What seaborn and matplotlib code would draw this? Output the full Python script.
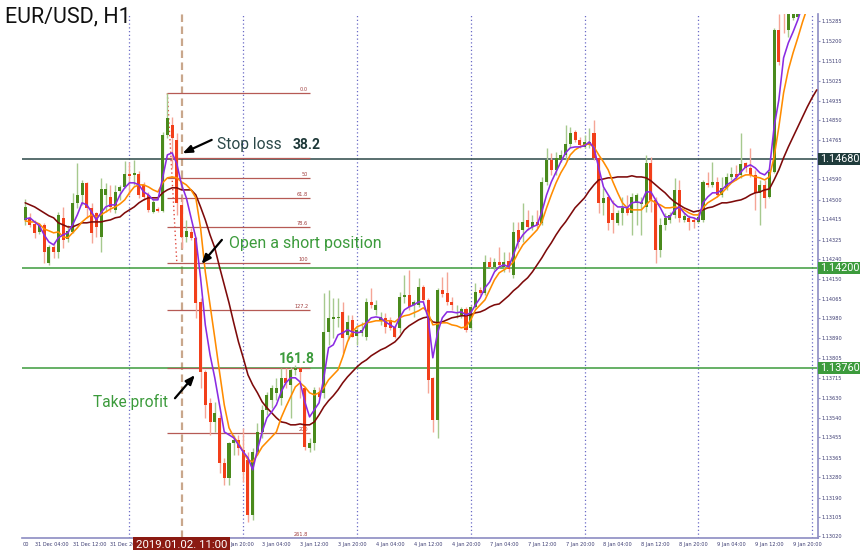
import numpy as np
import pandas as pd
import matplotlib
matplotlib.use("Agg")
import matplotlib.pyplot as plt
import seaborn as sns

# ---------------- data (prices in points, 1 point = 0.00001) ----------------
first_bar = 2          # bar index of first candle (bar 0 = 31 Dec 00:00, H1 bars)

open_pts = [
    114412, 114421, 114394, 114359, 114390, 114223, 114293, 114271, 114421, 114328,   # 2-11
    114359, 114487, 114522, 114575, 114465, 114443, 114337, 114522, 114513, 114456,   # 12-21
    114540, 114557, 114614, 114610, 114614, 114566, 114522, 114447, 114460, 114452,   # 22-31
    114786, 114830, 114764, 114478, 114337, 114359, 114333, 114051, 113743, 113607,   # 32-41
    113523, 113541, 113343, 113277, 113431, 113444, 113400, 113356, 113114, 113391,   # 42-51
    113479, 113576, 113620, 113651, 113629, 113717, 113686, 113752, 113761, 113673,   # 52-61
    113409, 113431, 113655, 113651, 113919, 113976, 113981, 114007, 113906, 113972,   # 62-71
    113902, 113915, 113897, 114051, 114016, 113972, 113981, 113972, 113941, 113937,   # 72-81
    114073, 114082, 114038, 114038, 114117, 114060, 113717, 113532, 114104, 114091,   # 82-91
    114051, 114003, 113994, 114020, 113937, 114029, 114104, 114091, 114227, 114205,   # 92-101
    114227, 114205, 114232, 114170, 114368, 114368, 114412, 114381, 114403, 114399,   # 102-111
    114579, 114676, 114632, 114676, 114698, 114746, 114799, 114764, 114733, 114742,   # 112-121
    114795, 114685, 114487, 114513, 114443, 114399, 114443, 114465, 114443, 114487,   # 122-131
    114482, 114469, 114663, 114500, 114280, 114390, 114412, 114434, 114544, 114412,   # 132-141
    114421, 114412, 114403, 114412, 114575, 114566, 114579, 114522, 114553, 114601,   # 142-151
    114614, 114610, 114663, 114641, 114610, 114531, 114566, 114513, 114623, 115248,   # 152-161
    115380, 115248, 115301, 115305, 115468, 115534, 115578, 115622,                   # 162-169
]
high_pts = [
    114504, 114443, 114412, 114399, 114399, 114302, 114315, 114447, 114469, 114390,
    114531, 114663, 114588, 114579, 114487, 114447, 114597, 114575, 114566, 114566,
    114566, 114672, 114667, 114676, 114628, 114579, 114535, 114500, 114469, 114799,
    114971, 114865, 114795, 114509, 114412, 114377, 114337, 114069, 113752, 113629,
    113611, 113554, 113365, 113435, 113466, 113466, 113497, 113391, 113409, 113519,
    113598, 113655, 113686, 113717, 113761, 113761, 113765, 113774, 113765, 113677,
    113453, 113677, 113677, 114091, 114104, 114069, 114069, 114051, 113994, 113994,
    113950, 113963, 114069, 114113, 114060, 114007, 114003, 113985, 113950, 114095,
    114170, 114192, 114060, 114157, 114126, 114069, 113721, 114113, 114161, 114183,
    114073, 114038, 114029, 114029, 114038, 114135, 114117, 114258, 114249, 114245,
    114293, 114271, 114271, 114403, 114403, 114487, 114456, 114434, 114456, 114601,
    114729, 114707, 114711, 114720, 114830, 114821, 114808, 114777, 114786, 114817,
    114852, 114689, 114553, 114522, 114500, 114456, 114513, 114522, 114531, 114531,
    114513, 114698, 114689, 114513, 114421, 114443, 114447, 114597, 114588, 114443,
    114434, 114425, 114443, 114588, 114623, 114667, 114601, 114601, 114619, 114645,
    114654, 114795, 114667, 114729, 114632, 114588, 114588, 114641, 115257, 115318,
    115402, 115446, 115468, 115512, 115556, 115600, 115644, 115688,
]
low_pts = [
    114390, 114381, 114333, 114350, 114223, 114214, 114245, 114245, 114289, 114315,
    114355, 114465, 114478, 114421, 114311, 114337, 114271, 114447, 114447, 114443,
    114500, 114553, 114522, 114566, 114509, 114500, 114447, 114443, 114447, 114447,
    114773, 114641, 114434, 114289, 114315, 114324, 113981, 113673, 113541, 113466,
    113479, 113299, 113246, 113246, 113378, 113378, 113259, 113083, 113092, 113378,
    113453, 113554, 113585, 113620, 113598, 113673, 113541, 113730, 113629, 113400,
    113391, 113400, 113629, 113629, 113862, 113893, 113941, 113827, 113884, 113897,
    113862, 113902, 113884, 114025, 113994, 113950, 113915, 113928, 113893, 113915,
    114047, 114016, 113985, 114029, 114051, 113651, 113479, 113453, 114073, 114038,
    114016, 113981, 113981, 113919, 113928, 114025, 114082, 114082, 114201, 114192,
    114201, 114183, 114183, 114157, 114289, 114315, 114368, 114368, 114377, 114390,
    114566, 114610, 114610, 114667, 114676, 114733, 114755, 114729, 114729, 114729,
    114676, 114443, 114434, 114368, 114355, 114390, 114390, 114434, 114346, 114390,
    114346, 114447, 114447, 114223, 114249, 114368, 114399, 114421, 114403, 114403,
    114368, 114377, 114399, 114403, 114557, 114557, 114513, 114513, 114544, 114588,
    114588, 114597, 114623, 114601, 114456, 114390, 114465, 114509, 114619, 115094,
    115235, 115217, 115292, 115301, 115424, 115512, 115556, 115600,
]
close_pts = [
    114469, 114390, 114355, 114390, 114271, 114293, 114271, 114434, 114324, 114364,
    114487, 114522, 114575, 114465, 114355, 114381, 114548, 114548, 114469, 114535,
    114557, 114614, 114606, 114619, 114522, 114513, 114456, 114491, 114452, 114786,
    114861, 114773, 114487, 114337, 114364, 114333, 114047, 113743, 113598, 113523,
    113563, 113343, 113277, 113431, 113444, 113409, 113303, 113114, 113391, 113479,
    113576, 113642, 113673, 113673, 113717, 113695, 113752, 113761, 113743, 113413,
    113431, 113664, 113633, 113919, 113981, 113985, 113985, 113893, 113963, 113897,
    113928, 113928, 114051, 114038, 114038, 113985, 113941, 113937, 113897, 114073,
    114082, 114029, 114051, 114117, 114060, 113708, 113532, 114104, 114086, 114051,
    114038, 114007, 114020, 113928, 114029, 114095, 114091, 114227, 114205, 114227,
    114214, 114227, 114196, 114359, 114315, 114403, 114381, 114403, 114390, 114579,
    114676, 114632, 114685, 114698, 114746, 114795, 114764, 114742, 114755, 114755,
    114685, 114487, 114509, 114399, 114412, 114443, 114465, 114443, 114513, 114522,
    114491, 114663, 114500, 114280, 114390, 114421, 114434, 114544, 114421, 114430,
    114403, 114403, 114425, 114579, 114566, 114579, 114522, 114553, 114601, 114614,
    114601, 114658, 114641, 114610, 114531, 114566, 114509, 114623, 115248, 115107,
    115336, 115402, 115446, 115490, 115534, 115578, 115622, 115644,
]

# moving averages, one value per bar
ma_fast_pts = [
    114416, 114421, 114403, 114386, 114346, 114315, 114302, 114333, 114346, 114355,
    114390, 114434, 114487, 114478, 114447, 114412, 114443, 114469, 114478, 114478,
    114522, 114553, 114575, 114575, 114566, 114535, 114522, 114500, 114500, 114597,
    114698, 114707, 114658, 114566, 114509, 114421, 114333, 114157, 113950, 113818,
    113717, 113598, 113479, 113466, 113453, 113422, 113391, 113365, 113312, 113400,
    113479, 113541, 113567, 113598, 113655, 113695, 113717, 113717, 113699, 113611,
    113545, 113576, 113607, 113717, 113849, 113862, 113906, 113915, 113928, 113919,
    113915, 113919, 113959, 113981, 113985, 113981, 113963, 113950, 113937, 113981,
    114016, 114029, 114038, 114051, 114051, 113981, 113805, 113915, 113981, 114007,
    114007, 114003, 114007, 113994, 114003, 114038, 114069, 114113, 114139, 114183,
    114205, 114214, 114205, 114258, 114315, 114346, 114368, 114381, 114390, 114447,
    114522, 114579, 114623, 114667, 114707, 114729, 114733, 114733, 114738, 114755,
    114729, 114641, 114557, 114522, 114487, 114469, 114469, 114465, 114487, 114491,
    114487, 114535, 114535, 114500, 114465, 114425, 114425, 114456, 114469, 114443,
    114425, 114421, 114412, 114487, 114513, 114531, 114531, 114544, 114566, 114579,
    114597, 114623, 114645, 114654, 114641, 114619, 114610, 114632, 114821, 114940,
    115125, 115191, 115239, 115292, 115358, 115424, 115490, 115556,
]
ma_mid_pts = [
    114408, 114403, 114403, 114394, 114372, 114364, 114355, 114359, 114337, 114333,
    114355, 114377, 114403, 114421, 114434, 114425, 114434, 114447, 114460, 114469,
    114482, 114500, 114531, 114557, 114566, 114566, 114557, 114544, 114535, 114575,
    114597, 114601, 114597, 114579, 114566, 114544, 114509, 114377, 114183, 114038,
    113893, 113743, 113598, 113497, 113457, 113431, 113391, 113356, 113347, 113378,
    113413, 113435, 113457, 113479, 113541, 113589, 113633, 113677, 113695, 113677,
    113651, 113642, 113651, 113673, 113708, 113730, 113752, 113809, 113875, 113919,
    113941, 113950, 113959, 113963, 113968, 113968, 113968, 113968, 113963, 113981,
    113990, 113994, 114003, 114012, 114025, 114003, 113950, 113954, 113959, 113959,
    113950, 113946, 113937, 113941, 113972, 114016, 114038, 114060, 114104, 114148,
    114179, 114192, 114205, 114227, 114267, 114302, 114324, 114346, 114368, 114403,
    114465, 114522, 114575, 114619, 114654, 114698, 114720, 114733, 114742, 114746,
    114733, 114698, 114667, 114632, 114579, 114531, 114487, 114465, 114456, 114456,
    114456, 114478, 114500, 114487, 114478, 114465, 114465, 114469, 114465, 114456,
    114443, 114434, 114434, 114465, 114487, 114500, 114513, 114531, 114553, 114575,
    114588, 114601, 114610, 114610, 114601, 114597, 114588, 114601, 114689, 114821,
    114971, 115072, 115147, 115213, 115283, 115345, 115402, 115459,
]
ma_slow_pts = [
    114487, 114478, 114469, 114456, 114443, 114430, 114421, 114399, 114390, 114381,
    114381, 114390, 114399, 114399, 114403, 114403, 114403, 114408, 114412, 114421,
    114425, 114443, 114456, 114469, 114487, 114500, 114509, 114509, 114509, 114531,
    114544, 114553, 114553, 114544, 114544, 114544, 114522, 114469, 114412, 114346,
    114289, 114205, 114126, 114047, 113959, 113875, 113805, 113730, 113686, 113651,
    113611, 113585, 113563, 113541, 113523, 113519, 113510, 113510, 113514, 113510,
    113510, 113523, 113554, 113589, 113616, 113638, 113664, 113695, 113721, 113743,
    113765, 113783, 113796, 113814, 113827, 113840, 113849, 113862, 113875, 113897,
    113928, 113946, 113959, 113972, 113981, 113985, 113963, 113959, 113963, 113972,
    113981, 113985, 113990, 113990, 113994, 114003, 114007, 114016, 114029, 114038,
    114042, 114060, 114078, 114100, 114117, 114139, 114157, 114183, 114214, 114245,
    114280, 114311, 114346, 114377, 114403, 114434, 114465, 114487, 114509, 114540,
    114566, 114588, 114592, 114597, 114597, 114601, 114601, 114601, 114606, 114601,
    114601, 114597, 114584, 114566, 114548, 114531, 114509, 114491, 114478, 114465,
    114456, 114447, 114452, 114456, 114465, 114469, 114478, 114487, 114487, 114491,
    114496, 114500, 114509, 114522, 114531, 114535, 114544, 114548, 114588, 114632,
    114685, 114733, 114777, 114821, 114865, 114909, 114949, 114984,
]

# time axis: one label every 8 bars; the visible part of each label as in the chart
x_tick_bars_start, x_tick_step = 4, 8
x_tick_labels = ["31 Dec 04:00", "31 Dec 12:00", "31 Dec 20",
                 "", "", "Jan 20:00", "3 Jan 04:00", "3 Jan 12:00",
                 "3 Jan 20:00", "4 Jan 04:00", "4 Jan 12:00", "4 Jan 20:00", "7 Jan 04:00",
                 "7 Jan 12:00", "7 Jan 20:00", "8 Jan 04:00", "8 Jan 12:00", "8 Jan 20:00",
                 "9 Jan 04:00", "9 Jan 12:00", "9 Jan 20:00"]
first_label_tail = "00"      # end of the "28 Dec 20:00" label cut by the left edge
day_start_bars = [24, 48, 72, 96, 120, 144, 168]

y_tick_values = [1.15285, 1.15200, 1.15110, 1.15025, 1.14935, 1.14850, 1.14765,
                 1.14590, 1.14500, 1.14415, 1.14325, 1.14240, 1.14150, 1.14065,
                 1.13980, 1.13890, 1.13805, 1.13715, 1.13630, 1.13540, 1.13455,
                 1.13365, 1.13280, 1.13190, 1.13105, 1.13020]

level_stop, level_open, level_tp = 1.14680, 1.14200, 1.13760

fib_levels = [0.0, 38.2, 50.0, 61.8, 78.6, 100.0, 127.2, 161.8, 200.0, 261.8]
fib_labels = ["0.0", "", "50", "61.8", "78.6", "100", "127.2", "", "200", "261.8"]
fib_high, fib_low = 1.14969, 1.14221
fib_bar_start, fib_bar_low, fib_bar_end = 32, 34, 62

entry_bar = 35
entry_label = "2019.01.02. 11:00"
view_bars = (1.33, 169.26)
view_prices = (1.13012, 1.15318)

# ---------------- style ----------------
sns.set_style("white")
plt.rcParams['font.family'] = ['Roboto', 'DejaVu Sans']

BULL, BEAR = '#4a8a1c', '#f23f1a'
BULL_WICK, BEAR_WICK = '#a6c98e', '#f5a596'
AXIS_C = '#8c8cc2'
TICK_C = '#3c3c72'
GREEN = '#3c9b3c'
SLATE = '#2b4848'

fig = plt.figure(figsize=(8.6, 5.5), dpi=100)
ax = fig.add_axes([22/860, 12/550, 796/860, 524/550])
ax.set_facecolor('white')

bars = np.arange(first_bar, first_bar + len(open_pts))
o = np.array(open_pts) / 1e5
h = np.array(high_pts) / 1e5
l = np.array(low_pts) / 1e5
c = np.array(close_pts) / 1e5
up = c >= o

# day separators and entry time line
for b in day_start_bars:
    ax.axvline(b, color='#6a6ac6', lw=0.9, ls=(0, (1, 2)), zorder=1)
ax.axvline(entry_bar, color='#c9a78c', lw=1.6, ls=(0, (3.4, 2.0)), zorder=1.2)

# horizontal levels
ax.axhline(level_stop, color=SLATE, lw=1.1, zorder=1.5)
ax.axhline(level_open, color=GREEN, lw=1.1, zorder=1.5)
ax.axhline(level_tp, color=GREEN, lw=1.1, zorder=1.5)

# fibonacci
fib_prices = [fib_high - lv / 100.0 * (fib_high - fib_low) for lv in fib_levels]
ax.hlines(fib_prices, fib_bar_start, fib_bar_end, color='#b65a55', lw=0.9, zorder=1.8)
for p, lab in zip(fib_prices, fib_labels):
    if lab:
        ax.text(fib_bar_end - 0.3, p + 0.00004, lab, ha='right', va='bottom',
                fontsize=3.6, color='#a03c3c', zorder=1.8, family='DejaVu Sans')
ax.plot([fib_bar_start, fib_bar_low], [fib_high, fib_low], color='#e04a40',
        lw=1.0, ls=(0, (1, 2)), zorder=1.9)

# candles
ax.vlines(bars, l, h, colors=np.where(up, BULL_WICK, BEAR_WICK), lw=1.0, zorder=2.5)
body_bottom = np.minimum(o, c)
body_height = np.maximum(np.abs(c - o), 0.00003)
ax.bar(bars, body_height, bottom=body_bottom, width=0.64,
       color=np.where(up, BULL, BEAR), linewidth=0, zorder=3)

# moving averages (seaborn)
ma_df = pd.DataFrame({'bar': bars,
                      'slow': np.array(ma_slow_pts) / 1e5,
                      'mid': np.array(ma_mid_pts) / 1e5,
                      'fast': np.array(ma_fast_pts) / 1e5}).melt('bar', var_name='ma', value_name='price')
sns.lineplot(data=ma_df, x='bar', y='price', hue='ma', hue_order=['slow', 'mid', 'fast'],
             palette={'slow': '#7d0a0a', 'mid': '#ff8c00', 'fast': '#8a2be2'},
             linewidth=1.15, estimator=None, sort=False, legend=False, ax=ax, zorder=5)

ax.set_xlim(*view_bars)
ax.set_ylim(*view_prices)
ax.set_xlabel('')
ax.set_ylabel('')

# axes styling
for s in ['top', 'left']:
    ax.spines[s].set_visible(False)
for s in ['right', 'bottom']:
    ax.spines[s].set_color(AXIS_C)
    ax.spines[s].set_linewidth(1.2)
ax.yaxis.tick_right()
ax.set_yticks(y_tick_values)
ax.set_yticklabels([f"{v:.5f}" for v in y_tick_values])

tick_bars = [x_tick_bars_start + k * x_tick_step for k in range(len(x_tick_labels))]
shifted = 5   # the "Jan 20:00" label starts just right of the entry box
ax.set_xticks(tick_bars)
ax.set_xticklabels([("" if k == shifted else lab) for k, lab in enumerate(x_tick_labels)],
                   ha='left')
ax.tick_params(axis='both', direction='out', length=1.6, width=0.8, color=AXIS_C,
               labelsize=3.6, labelcolor=TICK_C, pad=1.2)
for t in ax.get_xticklabels() + ax.get_yticklabels():
    t.set_family('DejaVu Sans')
ax.annotate(x_tick_labels[shifted], xy=(tick_bars[shifted], 0), xycoords=('data', 'axes fraction'),
            xytext=(4.2, -2.8), textcoords='offset points', ha='left', va='top',
            fontsize=3.6, color=TICK_C, family='DejaVu Sans', annotation_clip=False)

# tail of the label cut by the left edge
ax.annotate(first_label_tail, xy=(0, 0), xycoords='axes fraction',
            xytext=(0.3, -2.8), textcoords='offset points', ha='left', va='top',
            fontsize=3.6, color=TICK_C, family='DejaVu Sans', annotation_clip=False)

# price boxes on the right axis
for price, col in [(level_stop, '#1f3b3b'), (level_open, GREEN), (level_tp, GREEN)]:
    ax.annotate(f"{price:.5f}", xy=(1, price), xycoords=('axes fraction', 'data'),
                xytext=(1.2, 0), textcoords='offset points', ha='left', va='center',
                color='white', fontsize=7.8,
                bbox=dict(boxstyle='square,pad=0.12', fc=col, ec='none'),
                annotation_clip=False, zorder=10)

# entry time label
ax.annotate(entry_label, xy=(entry_bar, 0), xycoords=('data', 'axes fraction'),
            xytext=(0, -1.4), textcoords='offset points', ha='center', va='top',
            color='white', fontsize=8.2,
            bbox=dict(boxstyle='square,pad=0.22', fc='#8b1a12', ec='none'),
            annotation_clip=False, zorder=10)

# annotations
arrow = dict(arrowstyle='-|>,head_length=0.55,head_width=0.22', color='black', lw=1.6,
             shrinkA=0, shrinkB=0, mutation_scale=10)
ax.annotate('', xy=(35.2, 1.14705), xytext=(41.35, 1.14764), arrowprops=arrow, zorder=8)
ax.annotate('', xy=(39.2, 1.14218), xytext=(43.5, 1.14324), arrowprops=arrow, zorder=8)
ax.annotate('', xy=(37.8, 1.13729), xytext=(33.6, 1.13627), arrowprops=arrow, zorder=8)

ax.text(42.4, 1.14723, 'Stop loss', fontsize=11.2, color=SLATE, ha='left', va='baseline', zorder=8)
ax.text(58.4, 1.14724, '38.2', fontsize=10, fontweight='bold', color='#1e3838', ha='left',
        va='baseline', zorder=8)
ax.text(44.9, 1.14288, 'Open a short position', fontsize=11.5, color=GREEN, ha='left',
        va='baseline', zorder=8)
ax.text(32.1, 1.13588, 'Take profit', fontsize=11.2, color=GREEN, ha='right', va='baseline', zorder=8)
ax.text(55.5, 1.13781, '161.8', fontsize=10, fontweight='bold', color=GREEN, ha='left',
        va='baseline', zorder=8)

fig.text(5/860, 1 - 22.5/550, 'EUR/USD, H1', fontsize=15.5, color='#111111',
         ha='left', va='baseline')

fig.savefig('out.png', dpi=100)
